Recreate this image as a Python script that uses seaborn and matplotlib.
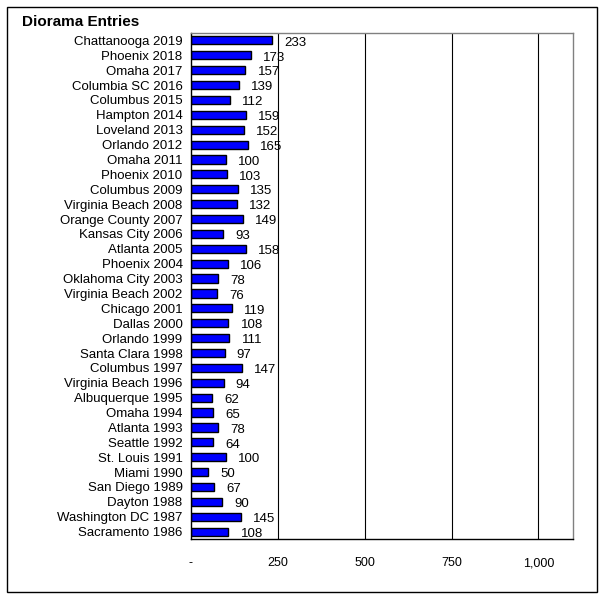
import numpy as np
import pandas as pd
import matplotlib
matplotlib.use("Agg")
import matplotlib.pyplot as plt
import seaborn as sns

events = ['Chattanooga 2019', 'Phoenix 2018', 'Omaha 2017', 'Columbia SC 2016',
          'Columbus 2015', 'Hampton 2014', 'Loveland 2013', 'Orlando 2012',
          'Omaha 2011', 'Phoenix 2010', 'Columbus 2009', 'Virginia Beach 2008',
          'Orange County 2007', 'Kansas City 2006', 'Atlanta 2005', 'Phoenix 2004',
          'Oklahoma City 2003', 'Virginia Beach 2002', 'Chicago 2001', 'Dallas 2000',
          'Orlando 1999', 'Santa Clara 1998', 'Columbus 1997', 'Virginia Beach 1996',
          'Albuquerque 1995', 'Omaha 1994', 'Atlanta 1993', 'Seattle 1992',
          'St. Louis 1991', 'Miami 1990', 'San Diego 1989', 'Dayton 1988',
          'Washington DC 1987', 'Sacramento 1986']
entries = [233, 173, 157, 139, 112, 159, 152, 165, 100, 103, 135, 132, 149, 93,
           158, 106, 78, 76, 119, 108, 111, 97, 147, 94, 62, 65, 78, 64, 100, 50,
           67, 90, 145, 108]
x_ticks = [0, 250, 500, 750, 1000]
x_labels = ['-', '250', '500', '750', '1,000']

df = pd.DataFrame({'Event': events, 'Entries': entries})

sns.set_style("white")
plt.rcParams['font.family'] = ['Liberation Sans', 'DejaVu Sans']
plt.rcParams['text.color'] = 'black'
plt.rcParams['xtick.color'] = 'black'
plt.rcParams['ytick.color'] = 'black'

fig = plt.figure(figsize=(6.04, 5.99), dpi=100)
ax = fig.add_axes([0.316, 0.100, 0.633, 0.845])

sns.barplot(data=df, x='Entries', y='Event', orient='h', color='#0000FF',
            edgecolor='black', linewidth=1.0, width=0.55, saturation=1, ax=ax)

# value labels just right of each bar
for i, v in enumerate(entries):
    ax.text(v + 35, i + 0.15, str(v), ha='left', va='center', fontsize=9.5, color='black')

ax.set_xlim(0, 1100)
ax.set_ylim(len(events) - 0.5, -0.5)
ax.set_xticks(x_ticks)
ax.set_xticklabels(x_labels, fontsize=9)
ax.tick_params(axis='x', direction='out', length=4, width=0.8, color='black', pad=9)
ax.tick_params(axis='y', which='major', length=0, labelsize=9.5, pad=6)
ax.set_yticks(np.arange(-0.5, len(events), 1), minor=True)
ax.tick_params(axis='y', which='minor', direction='out', length=4, width=0.8, color='black')
ax.set_xlabel('')
ax.set_ylabel('')

for gx in x_ticks[1:]:
    ax.axvline(gx, color='black', linewidth=0.8, zorder=0)

for side in ['top', 'right']:
    ax.spines[side].set_color('#808080')
    ax.spines[side].set_linewidth(1.0)
for side in ['left', 'bottom']:
    ax.spines[side].set_color('black')
    ax.spines[side].set_linewidth(1.0)

fig.text(0.036, 0.964, 'Diorama Entries', fontsize=11, fontweight='bold',
         ha='left', va='center', color='black')

# outer chart border
fig.patches.append(plt.Rectangle((0.012, 0.012), 0.976, 0.976, transform=fig.transFigure,
                                 fill=False, edgecolor='black', linewidth=1.0))

fig.savefig('out.png', dpi=100)
